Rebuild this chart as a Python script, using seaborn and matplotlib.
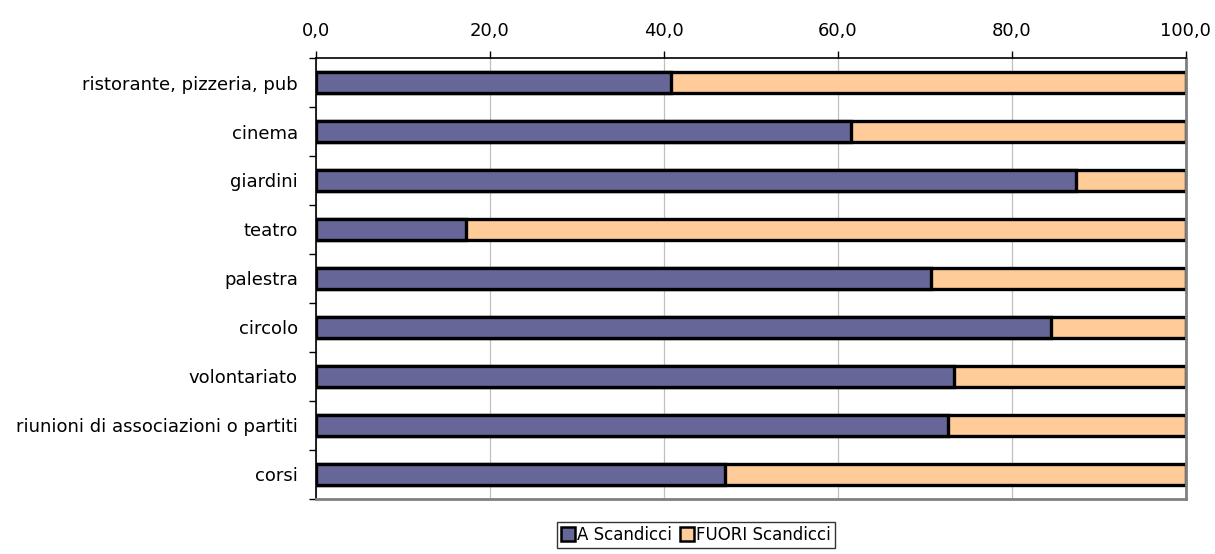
import matplotlib
matplotlib.use("Agg")
import matplotlib.pyplot as plt
from matplotlib.ticker import FuncFormatter, MultipleLocator
from matplotlib.patches import Patch
import seaborn as sns
import pandas as pd

categories = [
    "ristorante, pizzeria, pub",
    "cinema",
    "giardini",
    "teatro",
    "palestra",
    "circolo",
    "volontariato",
    "riunioni di associazioni o partiti",
    "corsi",
]
a_scandicci = [40.8, 61.5, 87.4, 17.2, 70.7, 84.5, 73.3, 72.7, 47.0]
fuori_scandicci = [59.2, 38.5, 12.6, 82.8, 29.3, 15.5, 26.7, 27.3, 53.0]
series_names = ["A Scandicci", "FUORI Scandicci"]
colors = ["#666699", "#FFCC99"]

df = pd.DataFrame({"luogo": categories, "a": a_scandicci, "fuori": fuori_scandicci})
df["totale"] = df["a"] + df["fuori"]

sns.set_theme(style="white")
plt.rcParams["font.family"] = ["DejaVu Sans"]
plt.rcParams["text.color"] = "black"
plt.rcParams["xtick.color"] = "black"
plt.rcParams["ytick.color"] = "black"

fig = plt.figure(figsize=(12.15, 5.54), dpi=100)
ax = fig.add_axes([0.260, 0.0993, 0.716, 0.7960])

bar_w = 0.42
# stacked bars: full stack in peach, the "A Scandicci" share drawn over it
sns.barplot(data=df, y="luogo", x="totale", orient="h", color=colors[1],
            saturation=1, width=bar_w, edgecolor="black", linewidth=2.4,
            ax=ax, zorder=2)
sns.barplot(data=df, y="luogo", x="a", orient="h", color=colors[0],
            saturation=1, width=bar_w, edgecolor="black", linewidth=2.4,
            ax=ax, zorder=3)

ax.set_xlim(0, 100)
ax.set_ylim(len(categories) - 0.5, -0.5)
ax.set_xlabel("")
ax.set_ylabel("")

# value axis on top
ax.xaxis.tick_top()
ax.xaxis.set_major_locator(MultipleLocator(20))
ax.xaxis.set_major_formatter(FuncFormatter(lambda v, _: f"{v:.1f}".replace(".", ",")))
ax.tick_params(axis="x", which="major", direction="out", length=5, width=1,
               color="black", labelcolor="black", labelsize=13, pad=8,
               top=True, bottom=False)
ax.grid(axis="x", color="#c0c0c0", linewidth=0.9, zorder=0)
ax.grid(axis="y", visible=False)

# category labels centred, ticks between categories
ax.set_yticks(range(len(categories)))
ax.set_yticklabels(categories, va="center_baseline")
ax.set_yticks([i + 0.5 for i in range(-1, len(categories))], minor=True)
ax.tick_params(axis="y", which="major", length=0, labelsize=13,
               labelcolor="black", pad=13)
ax.tick_params(axis="y", which="minor", left=True, direction="out",
               length=5, width=1, color="black")

for side in ["top", "left"]:
    ax.spines[side].set_color("black")
    ax.spines[side].set_linewidth(1.2)
for side in ["right", "bottom"]:
    ax.spines[side].set_color("#808080")
    ax.spines[side].set_linewidth(2)
ax.set_axisbelow(True)

handles = [Patch(facecolor=c, edgecolor="black", linewidth=1.8) for c in colors]
leg = fig.legend(handles, series_names, loc="center", bbox_to_anchor=(0.573, 0.034),
                 ncol=2, frameon=True, fancybox=False, fontsize=12,
                 handlelength=0.8, handleheight=0.9, handletextpad=0.15,
                 columnspacing=0.5, borderpad=0.25, borderaxespad=0,
                 edgecolor="black")
leg.get_frame().set_linewidth(1.0)

fig.savefig("out.png", dpi=100)
